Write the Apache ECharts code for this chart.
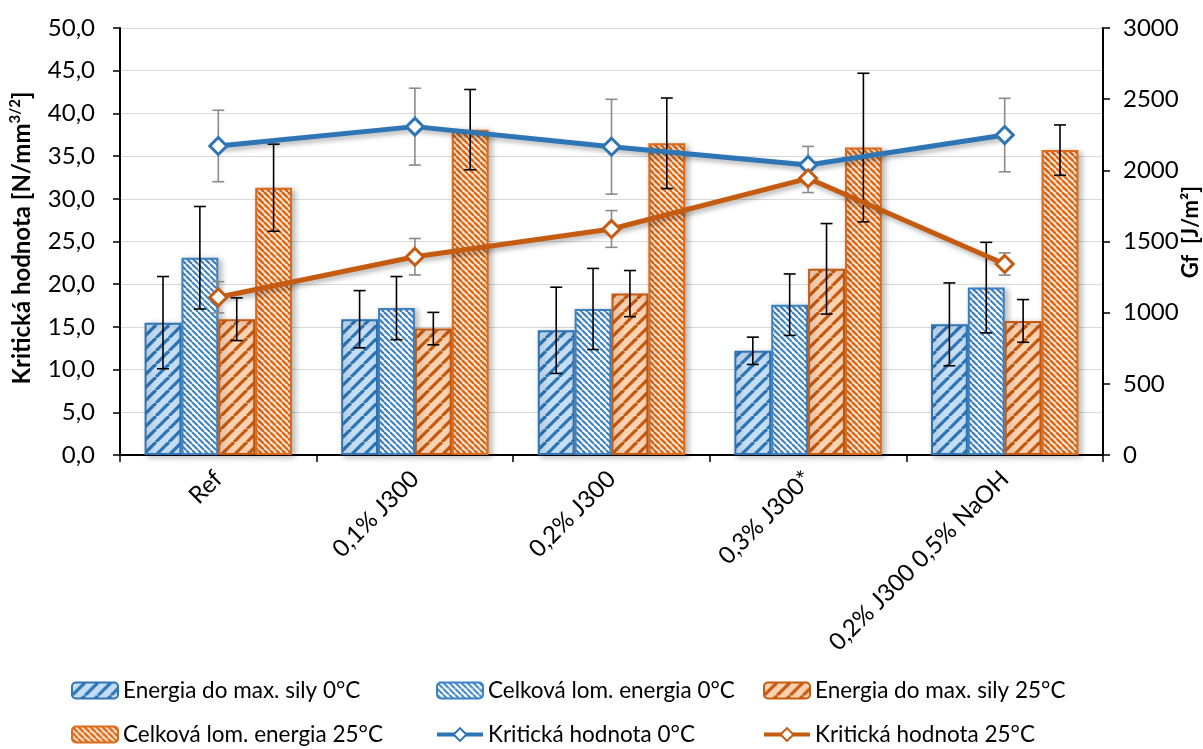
<!DOCTYPE html>
<html>
<head>
<meta charset="utf-8">
<script src="https://cdn.jsdelivr.net/npm/echarts@6/dist/echarts.min.js"></script>
<style>
  html, body { margin: 0; padding: 0; background: #fff; }
  #chart { width: 1203px; height: 749px; }
</style>
</head>
<body>
<div id="chart"></div>
<script>
// Categories (mixtures)
const categories = ['Ref', '0,1% J300', '0,2% J300', '0,3% J300*', '0,2% J300 0,5% NaOH'];

// Left axis: Kritická hodnota [N/mm^3/2] (bars)
const energia0 = [15.5, 15.9, 14.6, 12.2, 15.3];
const energia0Err = [5.4, 3.35, 5.05, 1.6, 4.85];
const celkova0 = [23.1, 17.2, 17.1, 17.6, 19.6];
const celkova0Err = [6.0, 3.7, 4.75, 3.6, 5.3];
const energia25 = [15.9, 14.8, 18.9, 21.8, 15.7];
const energia25Err = [2.5, 1.9, 2.7, 5.3, 2.5];
const celkova25 = [31.3, 38.1, 36.5, 36.0, 35.7];
const celkova25Err = [5.1, 4.7, 5.3, 8.7, 2.95];

// Right axis: Gf [J/m2] (lines)
const krit0 = [2171, 2307, 2166, 2038, 2248];
const krit0Err = [251, 270, 333, 130, 258];
const krit25 = [1108, 1393, 1588, 1944, 1342];
const krit25Err = [110, 128, 129, 100, 78];

// Series names
const names = [
  'Energia do max. sily 0°C',
  'Celková lom. energia 0°C',
  'Energia do max. sily 25°C',
  'Celková lom. energia 25°C',
  'Kritická hodnota 0°C',
  'Kritická hodnota 25°C'
];

const BLUE = '#2e75b6';
const ORANGE = '#c55a11';
const FONT = 'Lato';

// Diagonal stripe tile for bar fills
function stripes(bg, fg, size, lw, dir) {
  const c = document.createElement('canvas');
  c.width = size; c.height = size;
  const ctx = c.getContext('2d');
  ctx.fillStyle = bg;
  ctx.fillRect(0, 0, size, size);
  ctx.strokeStyle = fg;
  ctx.lineWidth = lw;
  for (const o of [-size, 0, size]) {
    ctx.beginPath();
    if (dir === 'up') { ctx.moveTo(o, size); ctx.lineTo(o + size, 0); }
    else { ctx.moveTo(o, 0); ctx.lineTo(o + size, size); }
    ctx.stroke();
  }
  return { image: c, repeat: 'repeat' };
}

const fills = [
  stripes('#c6def4', BLUE, 13, 3.2, 'up'),
  stripes('#ffffff', '#3b82c4', 6, 2, 'down'),
  stripes('#fbd2b2', ORANGE, 13, 3.2, 'up'),
  stripes('#fde8d8', '#dc6a18', 6, 2.4, 'down')
];
const borders = [BLUE, '#3b82c4', ORANGE, '#dc6a18'];

const barValues = [energia0, celkova0, energia25, celkova25];

const BAR_CAT_GAP = 0.25;

function barSeries(k) {
  return {
    name: names[k],
    type: 'bar',
    yAxisIndex: 0,
    barGap: '0%',
    barCategoryGap: (BAR_CAT_GAP * 100) + '%',
    z: 2,
    data: barValues[k],
    itemStyle: {
      color: fills[k],
      borderColor: borders[k],
      borderWidth: 2,
      shadowColor: 'rgba(0,0,0,0.28)',
      shadowBlur: 6,
      shadowOffsetX: 3,
      shadowOffsetY: 2
    },
    emphasis: { disabled: true }
  };
}

// Error bars drawn as custom marks on the same axes
function errorSeries(values, errs, yAxisIndex, slot, color, z) {
  return {
    type: 'custom',
    yAxisIndex: yAxisIndex,
    z: z,
    silent: true,
    data: values.map((v, i) => [i, v, errs[i]]),
    encode: { x: 0, y: 1 },
    renderItem: function (params, api) {
      const i = api.value(0), v = api.value(1), e = api.value(2);
      const catW = api.size([1, 0])[0];
      const barW = catW * (1 - BAR_CAT_GAP) / 4;
      const cx = api.coord([i, v])[0] + (slot === null ? 0 : (slot - 1.5) * barW);
      const yT = api.coord([i, v + e])[1];
      const yB = api.coord([i, v - e])[1];
      const h = 6;
      const st = { stroke: color, lineWidth: 1.6 };
      return {
        type: 'group',
        children: [
          { type: 'line', shape: { x1: cx, y1: yT, x2: cx, y2: yB }, style: st },
          { type: 'line', shape: { x1: cx - h, y1: yT, x2: cx + h, y2: yT }, style: st },
          { type: 'line', shape: { x1: cx - h, y1: yB, x2: cx + h, y2: yB }, style: st }
        ]
      };
    }
  };
}

function lineSeries(name, data, color) {
  return {
    name: name,
    type: 'line',
    yAxisIndex: 1,
    z: 6,
    data: data,
    symbol: 'diamond',
    symbolSize: 17,
    lineStyle: {
      color: color, width: 5,
      shadowColor: 'rgba(0,0,0,0.3)', shadowBlur: 5, shadowOffsetX: 2, shadowOffsetY: 3
    },
    itemStyle: { color: '#ffffff', borderColor: color, borderWidth: 3 },
    emphasis: { disabled: true }
  };
}

const legendText = { fontFamily: FONT, fontSize: 22.5, color: '#000' };
function legendCol(left, items) {
  return {
    orient: 'vertical', left: left, top: 679, padding: 0,
    height: 70,
    itemWidth: 46, itemHeight: 16, itemGap: 21, textStyle: legendText,
    lineStyle: { width: 4, shadowBlur: 0, shadowOffsetX: 0, shadowOffsetY: 0 },
    selectedMode: false,
    data: items.map(n => ({ name: n }))
  };
}

const chart = echarts.init(document.getElementById('chart'), null, { renderer: 'canvas' });

chart.setOption({
  animation: false,
  backgroundColor: '#fff',
  grid: { left: 120, right: 100, top: 28, bottom: 294, containLabel: false },
  xAxis: {
    type: 'category',
    data: categories,
    axisLine: { lineStyle: { color: '#000', width: 2 } },
    axisTick: { show: true, length: 7, lineStyle: { color: '#000', width: 1.5 } },
    axisLabel: { rotate: 45, margin: 20, fontFamily: FONT, fontSize: 24, color: '#000', interval: 0 }
  },
  yAxis: [
    {
      type: 'value', min: 0, max: 50, interval: 5,
      axisLine: { show: true, lineStyle: { color: '#000', width: 2 } },
      axisTick: { show: true, length: 7, lineStyle: { color: '#000', width: 1.5 } },
      axisLabel: {
        margin: 25, fontFamily: FONT, fontSize: 24, color: '#000',
        formatter: v => v.toFixed(1).replace('.', ',')
      },
      splitLine: { lineStyle: { color: '#d9d9d9', width: 1.2 } }
    },
    {
      type: 'value', min: 0, max: 3000, interval: 500, position: 'right',
      axisLine: { show: true, lineStyle: { color: '#000', width: 2 } },
      axisTick: { show: true, length: 7, lineStyle: { color: '#000', width: 1.5 } },
      axisLabel: { margin: 20, fontFamily: FONT, fontSize: 24, color: '#000', formatter: v => String(v) },
      splitLine: { show: false }
    }
  ],
  legend: [
    legendCol(71, [names[0], names[3]]),
    legendCol(435, [names[1], names[4]]),
    legendCol(762, [names[2], names[5]])
  ],
  graphic: [
    {
      type: 'text', x: 22, y: 238, rotation: Math.PI / 2,
      style: {
        text: '{b|Kritická hodnota [N/mm}{s|3/2}{b|]}',
        align: 'center', verticalAlign: 'middle',
        rich: {
          b: { font: 'bold 24px ' + FONT, fontFamily: FONT, fontWeight: 700, fontSize: 24, lineHeight: 28, fill: '#000' },
          s: { font: 'bold 15px ' + FONT, fontFamily: FONT, fontWeight: 700, fontSize: 15, lineHeight: 28, verticalAlign: 'top', fill: '#000' }
        }
      }
    },
    {
      type: 'text', x: 1191, y: 232, rotation: Math.PI / 2,
      style: {
        text: 'Gf  [J/m²]', align: 'center', verticalAlign: 'middle',
        font: 'bold 22px ' + FONT, fill: '#000'
      }
    }
  ],
  series: [
    barSeries(0), barSeries(1), barSeries(2), barSeries(3),
    errorSeries(energia0, energia0Err, 0, 0, '#000', 3),
    errorSeries(celkova0, celkova0Err, 0, 1, '#000', 3),
    errorSeries(energia25, energia25Err, 0, 2, '#000', 3),
    errorSeries(celkova25, celkova25Err, 0, 3, '#000', 3),
    errorSeries(krit0, krit0Err, 1, null, '#8a8a8a', 4),
    errorSeries(krit25, krit25Err, 1, null, '#8a8a8a', 4),
    lineSeries(names[4], krit0, BLUE),
    lineSeries(names[5], krit25, ORANGE)
  ]
});
</script>
</body>
</html>
